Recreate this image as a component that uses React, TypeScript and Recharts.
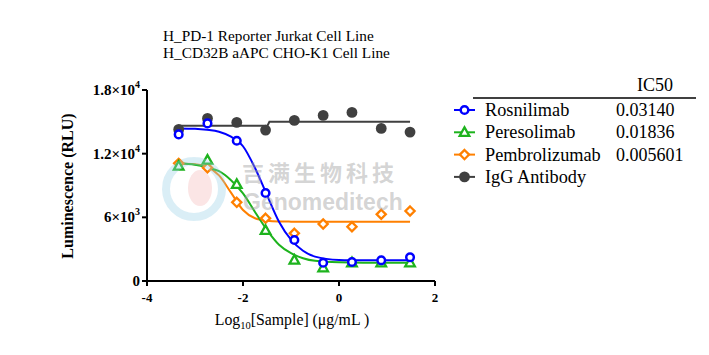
import { ComposedChart, Line, Scatter, XAxis, YAxis, Legend } from 'recharts'

// log10 dose (ug/mL) of each well, 4-fold dilution from 30 ug/mL
const doses = [-3.34, -2.74, -2.13, -1.53, -0.93, -0.33, 0.27, 0.88, 1.48]

const rosnilimab = [13818, 14854, 13215, 8289, 3862, 1724, 1790, 1950, 2232]
const peresolimab = [10832, 11397, 9108, 4776, 1978, 1253, 1724, 1724, 1724]
const pembrolizumab = [11086, 10672, 7413, 5906, 4493, 5369, 5115, 6283, 6593]
const iggAntibody = [14289, 15325, 14948, 14223, 15137, 15608, 15890, 14383, 14035]

// fitted curves
const fitX = [-3.34, -3, -2.75, -2.5, -2.25, -2, -1.75, -1.5, -1.25, -1, -0.75, -0.5, 0, 0.5, 1, 1.48]
const rosFit = [14383, 14348, 14250, 14066, 13600, 12700, 10650, 8100, 5589, 3900, 2850, 2300, 1990, 1955, 1950, 1950]
const perFit = [11090, 10950, 10700, 10350, 9500, 8250, 6500, 4800, 3420, 2620, 2150, 1900, 1760, 1730, 1727, 1727]
const pemFit = [11070, 11000, 10750, 9950, 8330, 6690, 5910, 5680, 5610, 5595, 5590, 5589, 5589, 5589, 5589, 5589]
const iggFitX = [-3.34, -1.49, -1.45, 1.48]
const iggFit = [14630, 14630, 15000, 15000]

const seriesNames = ['Rosnilimab', 'Peresolimab', 'Pembrolizumab', 'IgG Antibody']
const ic50Values = ['0.03140', '0.01836', '0.005601', '']
const colors = ['#0000ff', '#1db31d', '#ff8000', '#404040']

const xTicks = [-4, -2, 0, 2]
const yTicks = [0, 6000, 12000, 18000]
const yTickBase = ['0', '6×10', '1.2×10', '1.8×10']
const yTickExp = ['', '3', '4', '4']

const font = '"Liberation Serif", "Times New Roman", serif'

const toPoints = (xs: number[], ys: number[]) => xs.map((x, i) => ({ x, y: ys[i] }))

const Marker = ({ kind, cx, cy }: { kind: number; cx: number; cy: number }) => {
  const c = colors[kind]
  if (kind === 0) return <circle cx={cx} cy={cy} r={3.8} fill="#fff" stroke={c} strokeWidth={2.5} />
  if (kind === 1)
    return (
      <polygon
        points={`${cx},${cy - 5} ${cx - 4.8},${cy + 3.6} ${cx + 4.8},${cy + 3.6}`}
        fill="#fff"
        stroke={c}
        strokeWidth={2.3}
        strokeLinejoin="miter"
      />
    )
  if (kind === 2)
    return (
      <polygon
        points={`${cx},${cy - 4.6} ${cx + 4.6},${cy} ${cx},${cy + 4.6} ${cx - 4.6},${cy}`}
        fill="#fff"
        stroke={c}
        strokeWidth={2.3}
      />
    )
  return <circle cx={cx} cy={cy} r={5.4} fill={c} />
}

const YTick = (props: any) => {
  const { x, y, index } = props
  return (
    <text x={x} y={y + 5} textAnchor="end" fontFamily={font} fontWeight="bold" fontSize={15} fill="#000">
      <tspan>{yTickBase[index]}</tspan>
      {yTickExp[index] && (
        <tspan dy={-7} fontSize={10}>
          {yTickExp[index]}
        </tspan>
      )}
    </text>
  )
}

const XTick = (props: any) => {
  const { x, y, payload } = props
  return (
    <text x={x} y={y + 14} textAnchor="middle" fontFamily={font} fontWeight="bold" fontSize={13} fill="#000">
      {payload.value}
    </text>
  )
}

const LegendBox = () => (
  <svg width={260} height={130} style={{ display: 'block' }}>
    <text x={197} y={21} fontFamily={font} fontSize={18} fill="#000">
      IC50
    </text>
    <line x1={33} x2={256} y1={28} y2={28} stroke="#000" strokeWidth={1.5} />
    {seriesNames.map((name, i) => {
      const cy = 40 + i * 22.3
      return (
        <g key={name}>
          <line x1={14} x2={35} y1={cy} y2={cy} stroke={colors[i]} strokeWidth={2} />
          <Marker kind={i} cx={24.5} cy={cy} />
          <text x={45} y={cy + 6} fontFamily={font} fontSize={18.3} fill="#000">
            {name}
          </text>
          <text x={176} y={cy + 6} fontFamily={font} fontSize={18} fill="#000">
            {ic50Values[i]}
          </text>
        </g>
      )
    })}
  </svg>
)

export default function App() {
  const fits = [toPoints(fitX, rosFit), toPoints(fitX, perFit), toPoints(fitX, pemFit), toPoints(iggFitX, iggFit)]
  const points = [rosnilimab, peresolimab, pembrolizumab, iggAntibody].map((ys) => toPoints(doses, ys))
  const order = [3, 2, 1, 0]

  return (
    <div style={{ position: 'absolute', left: 0, top: 0, width: 709, height: 355, background: '#fff', fontFamily: font }}>
      <div style={{ position: 'absolute', left: 163, top: 28, fontSize: 15.3, lineHeight: '16.6px', color: '#000' }}>
        H_PD-1 Reporter Jurkat Cell Line
        <br />
        H_CD32B aAPC CHO-K1 Cell Line
      </div>

      <ComposedChart width={709} height={355} margin={{ top: 90, right: 274, bottom: 44, left: 87 }}>
        <XAxis
          type="number"
          dataKey="x"
          domain={[-4, 2]}
          ticks={xTicks}
          height={30}
          stroke="#000"
          strokeWidth={2}
          tickSize={5}
          tick={<XTick />}
          allowDataOverflow
        />
        <YAxis
          type="number"
          dataKey="y"
          domain={[0, 18000]}
          ticks={yTicks}
          width={60}
          stroke="#000"
          strokeWidth={2}
          tickSize={5}
          tick={<YTick />}
        />
        <Legend layout="vertical" align="center" verticalAlign="middle" content={<LegendBox />} wrapperStyle={{ left: 440, top: 70, width: 260, height: 130 }} />
        {order.map((i) => (
          <Line
            key={'fit' + i}
            data={fits[i]}
            dataKey="y"
            type={i === 3 ? 'linear' : 'monotone'}
            stroke={colors[i]}
            strokeWidth={2}
            dot={false}
            activeDot={false}
            legendType="none"
            isAnimationActive={false}
          />
        ))}
        {order.map((i) => (
          <Scatter
            key={'pts' + i}
            name={seriesNames[i]}
            data={points[i]}
            dataKey="y"
            fill={colors[i]}
            shape={(p: any) => <Marker kind={i} cx={p.cx} cy={p.cy} />}
            isAnimationActive={false}
          />
        ))}
      </ComposedChart>

      <div style={{ position: 'absolute', left: 68, top: 186, width: 0, height: 0 }}>
        <div
          style={{
            position: 'absolute',
            transform: 'translate(-50%, -50%) rotate(-90deg)',
            whiteSpace: 'nowrap',
            fontWeight: 'bold',
            fontSize: 16,
            lineHeight: '16px',
            color: '#000',
          }}
        >
          Luminescence (RLU)
        </div>
      </div>

      <div style={{ position: 'absolute', left: 0, width: 584, top: 311, textAlign: 'center', fontSize: 15.8, color: '#000', whiteSpace: 'nowrap' }}>
        Log<sub style={{ fontSize: 10.5 }}>10</sub>[Sample] (μg/mL )
      </div>

      {/* watermark */}
      <div style={{ position: 'absolute', left: 162, top: 157, width: 48, height: 48, borderRadius: '50%', border: '8px solid rgba(150,205,230,0.35)', pointerEvents: 'none' }} />
      <div style={{ position: 'absolute', left: 188, top: 170, width: 24, height: 36, borderRadius: '50%', background: 'rgba(240,150,150,0.25)', pointerEvents: 'none' }} />
      <div
        style={{
          position: 'absolute',
          left: 242,
          top: 160,
          fontFamily: '"Noto Sans CJK SC", sans-serif',
          fontWeight: 'bold',
          fontSize: 22,
          lineHeight: '22px',
          letterSpacing: 4,
          color: 'rgba(160,160,160,0.45)',
          pointerEvents: 'none',
          whiteSpace: 'nowrap',
        }}
      >
        吉满生物科技
      </div>
      <div
        style={{
          position: 'absolute',
          left: 243,
          top: 191,
          fontFamily: '"Liberation Sans", Arial, sans-serif',
          fontWeight: 'bold',
          fontSize: 23,
          lineHeight: '23px',
          color: 'rgba(160,160,160,0.45)',
          pointerEvents: 'none',
          whiteSpace: 'nowrap',
        }}
      >
        Genomeditech
      </div>
    </div>
  )
}
